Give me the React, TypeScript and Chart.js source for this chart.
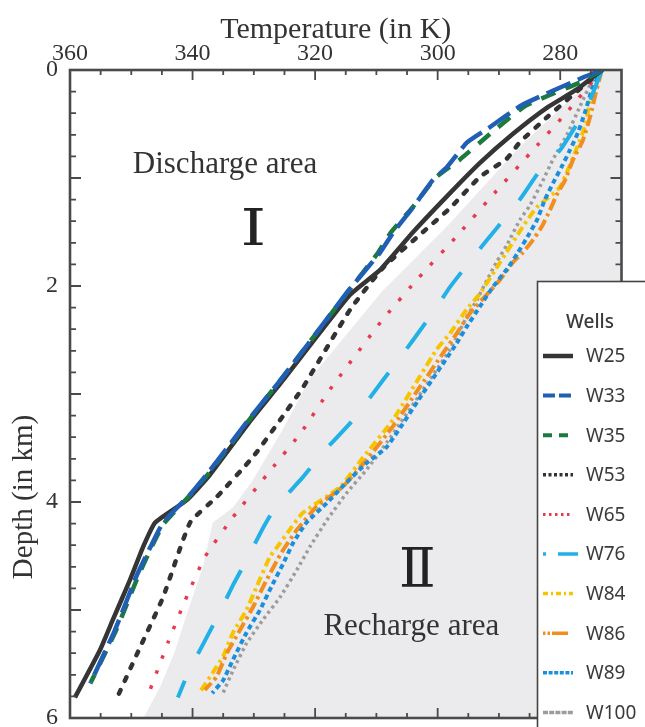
import React, { useEffect, useRef } from 'react';
import { Chart, registerables } from 'chart.js';

Chart.register(...registerables);

// ---------- axis definitions ----------
const TEMP_TICKS = [360, 340, 320, 300, 280];
const DEPTH_TICKS = [0, 2, 4, 6];
const TEMP_RANGE = [270, 360];
const DEPTH_RANGE = [0, 6];

// ---------- data (temperature in K, depth in km) ----------
const WELLS = ['W25', 'W33', 'W35', 'W53', 'W65', 'W76', 'W84', 'W86', 'W89', 'W100'];

const W25_TEMP = [273.2, 277.3, 282.2, 287.7, 293.1, 298.5, 304.0, 309.4, 314.3, 319.2, 325.2, 330.6, 337.2, 340.9, 346.1, 348.1, 350.2, 353.0, 355.1, 359.2];
const W25_DEPTH = [0, 0.18, 0.35, 0.59, 0.86, 1.17, 1.5, 1.85, 2.08, 2.43, 2.87, 3.25, 3.75, 3.98, 4.19, 4.42, 4.72, 5.09, 5.37, 5.81];

const W33_TEMP = [273.2, 276.3, 286.1, 291.5, 295.2, 298.5, 300.8, 304.0, 307.3, 309.4, 314.8, 325.2, 330.6, 337.2, 340.4, 344.8, 346.9, 349.1, 352.7, 356.7];
const W33_DEPTH = [0, 0.07, 0.32, 0.53, 0.67, 0.9, 1.02, 1.27, 1.51, 1.69, 2.06, 2.84, 3.22, 3.71, 3.93, 4.19, 4.42, 4.68, 5.19, 5.68];

const W35_TEMP = [273.2, 276.6, 285.6, 291.0, 296.4, 300.4, 304.2, 307.6, 309.7, 314.6, 325.1, 330.5, 337.0, 340.3, 344.7, 346.8, 348.9, 352.5, 356.6];
const W35_DEPTH = [0, 0.11, 0.33, 0.57, 0.83, 1.0, 1.28, 1.5, 1.69, 2.05, 2.83, 3.22, 3.71, 3.93, 4.2, 4.43, 4.69, 5.19, 5.67];

const W53_TEMP = [273.2, 282.2, 286.6, 288.7, 293.1, 298.0, 302.4, 308.9, 314.3, 322.0, 325.7, 330.1, 336.0, 340.4, 344.8, 348.6, 352.3];
const W53_DEPTH = [0, 0.44, 0.67, 0.82, 0.99, 1.28, 1.5, 1.83, 2.22, 2.94, 3.24, 3.58, 3.95, 4.19, 4.88, 5.35, 5.81];

const W65_TEMP = [273.2, 278.9, 284.9, 291.2, 296.9, 303.2, 309.1, 317.6, 322.2, 327.9, 333.4, 338.0, 341.2, 344.0, 347.4];
const W65_DEPTH = [0, 0.39, 0.77, 1.17, 1.54, 1.93, 2.32, 2.96, 3.35, 3.75, 4.14, 4.51, 4.91, 5.3, 5.81];

const W76_TEMP = [273.2, 275.6, 280.0, 283.3, 286.6, 290.3, 293.6, 298.0, 300.1, 304.0, 308.9, 313.8, 318.7, 322.0, 326.6, 328.5, 331.4, 333.4, 336.0, 340.7, 342.4];
const W76_DEPTH = [0, 0.34, 0.74, 0.93, 1.2, 1.46, 1.69, 2.01, 2.19, 2.5, 2.87, 3.24, 3.54, 3.77, 4.06, 4.24, 4.56, 4.77, 5.07, 5.58, 5.81];

const W84_TEMP = [273.2, 275.1, 276.0, 280.0, 283.8, 286.1, 289.8, 293.1, 295.3, 298.0, 300.2, 307.3, 312.2, 315.9, 322.0, 323.8, 325.7, 327.4, 329.5, 331.2, 333.4, 335.0, 336.7, 338.8];
const W84_DEPTH = [0, 0.28, 0.53, 1.08, 1.27, 1.45, 1.78, 2.07, 2.22, 2.44, 2.59, 3.24, 3.59, 3.86, 4.1, 4.23, 4.38, 4.51, 4.78, 5.0, 5.21, 5.43, 5.58, 5.76];

const W86_TEMP = [273.2, 274.1, 275.1, 276.3, 277.9, 279.2, 280.6, 281.7, 283.0, 284.4, 286.1, 287.7, 289.8, 292.0, 294.7, 296.9, 299.1, 303.2, 307.3, 311.6, 315.5, 319.7, 323.0, 325.5, 327.9, 330.1, 332.3, 334.4, 336.1, 338.0];
const W86_DEPTH = [0, 0.19, 0.43, 0.65, 0.83, 1.02, 1.16, 1.3, 1.45, 1.57, 1.69, 1.78, 1.94, 2.08, 2.25, 2.44, 2.62, 2.96, 3.3, 3.61, 3.86, 4.04, 4.26, 4.47, 4.72, 4.97, 5.19, 5.4, 5.62, 5.74];

const W89_TEMP = [273.2, 274.7, 276.0, 277.1, 278.4, 279.8, 281.2, 282.5, 283.8, 285.5, 286.9, 288.5, 291.0, 293.1, 295.3, 296.9, 302.6, 308.3, 311.6, 314.9, 318.1, 321.4, 323.6, 325.2, 327.1, 329.0, 331.2, 333.4, 335.0, 336.8];
const W89_DEPTH = [0, 0.16, 0.4, 0.58, 0.74, 0.9, 1.05, 1.2, 1.39, 1.56, 1.69, 1.83, 2.01, 2.19, 2.38, 2.53, 3.01, 3.49, 3.64, 3.82, 4.01, 4.19, 4.38, 4.57, 4.78, 5.0, 5.21, 5.46, 5.65, 5.77];

const W100_TEMP = [273.2, 274.7, 276.8, 278.9, 281.2, 282.8, 284.9, 286.6, 288.7, 290.4, 292.0, 293.6, 295.3, 296.9, 298.0, 303.2, 308.3, 311.6, 314.9, 318.1, 320.8, 323.0, 325.7, 328.5, 331.2, 333.4, 335.2];
const W100_DEPTH = [0, 0.09, 0.34, 0.6, 0.83, 1.02, 1.25, 1.39, 1.62, 1.78, 1.95, 2.13, 2.29, 2.47, 2.59, 3.03, 3.45, 3.7, 3.92, 4.17, 4.41, 4.63, 4.88, 5.09, 5.31, 5.56, 5.79];

// left boundary of the recharge (grey) area
const RECHARGE_TEMP = [270, 273.2, 286.4, 298.5, 309.1, 321.0, 325.3, 330.2, 333.4, 336.7, 338.3, 340.9, 343.0, 345.2, 348.0];
const RECHARGE_DEPTH = [0, 0, 0.7, 1.45, 2.05, 2.87, 3.33, 3.8, 4.05, 4.19, 4.6, 5.03, 5.4, 5.7, 6.0];

// area labels: [text, temperature, depth]
const AREA_LABELS: [string, number, number][] = [
  ['Discharge area', 334.7, 0.955],
  ['Recharge area', 304.3, 5.23],
];
// roman numerals: [text, temperature, depth, font size, horizontal stretch]
const AREA_NUMERALS: [string, number, number, number, number][] = [
  ['\u2160', 330.1, 1.5, 50, 1.3],
  ['\u2161', 303.3, 4.66, 54, 1.0],
];

// ---------- styles ----------
type Style = { color: string; width: number; dash: number[]; cap?: CanvasLineCap; legendDash: number[]; legendWidth: number; order: number };
const STYLES: Record<string, Style> = {
  W25: { color: '#353535', width: 4.5, dash: [], legendDash: [], legendWidth: 4.5, order: 3 },
  W33: { color: '#1f5fb4', width: 4.5, dash: [26, 8], legendDash: [12, 4], legendWidth: 4, order: 1 },
  W35: { color: '#1d7a3e', width: 4.5, dash: [15, 11], legendDash: [9, 7], legendWidth: 4, order: 2 },
  W53: { color: '#333333', width: 4.5, dash: [4, 10], cap: 'round', legendDash: [3, 2.5], legendWidth: 3.5, order: 4 },
  W65: { color: '#e83a4f', width: 3.5, dash: [3.5, 12.5], legendDash: [2.5, 3.5], legendWidth: 3, order: 5 },
  W76: { color: '#22b1e6', width: 4, dash: [32, 30], legendDash: [3, 12, 20, 100], legendWidth: 3.5, order: 6 },
  W84: { color: '#f6c500', width: 4, dash: [9, 4, 3, 4], legendDash: [5, 3, 2, 3], legendWidth: 3.5, order: 9 },
  W86: { color: '#f28e1e', width: 4, dash: [12, 4, 3, 4], legendDash: [2.5, 2, 2.5, 2, 16, 100], legendWidth: 3.5, order: 8 },
  W89: { color: '#1b8fdb', width: 4, dash: [5, 3.5], legendDash: [4, 1.6], legendWidth: 3.5, order: 7 },
  W100: { color: '#9c9c9c', width: 3.5, dash: [3, 3.5], legendDash: [5, 1.2], legendWidth: 3.5, order: 10 },
};

const SERIES: Record<string, [number[], number[]]> = {
  W25: [W25_TEMP, W25_DEPTH],
  W33: [W33_TEMP, W33_DEPTH],
  W35: [W35_TEMP, W35_DEPTH],
  W53: [W53_TEMP, W53_DEPTH],
  W65: [W65_TEMP, W65_DEPTH],
  W76: [W76_TEMP, W76_DEPTH],
  W84: [W84_TEMP, W84_DEPTH],
  W86: [W86_TEMP, W86_DEPTH],
  W89: [W89_TEMP, W89_DEPTH],
  W100: [W100_TEMP, W100_DEPTH],
};

const zip = (t: number[], d: number[]) => t.map((v, i) => ({ x: v, y: d[i] }));

const SERIF = '"Liberation Serif", "Times New Roman", serif';
const SANS = '"Noto Sans", "Open Sans", sans-serif';
const TEXT = '#333333';
const FRAME = '#4a4a4a';

const framePlugin = {
  id: 'frame',
  afterDatasetsDraw(chart: any) {
    const { ctx, chartArea: a, scales } = chart;
    const x = scales.x, y = scales.y;
    ctx.save();
    ctx.strokeStyle = FRAME;
    ctx.lineWidth = 1.8;
    ctx.beginPath();
    for (let t = TEMP_RANGE[0] + 5; t < TEMP_RANGE[1]; t += 5) {
      const px = x.getPixelForValue(t);
      const len = t % 20 === 0 ? 10 : 5;
      ctx.moveTo(px, a.top); ctx.lineTo(px, a.top + len);
      ctx.moveTo(px, a.bottom); ctx.lineTo(px, a.bottom - len);
    }
    for (let i = 1; i < 30; i++) {
      const py = y.getPixelForValue(i * 0.2);
      const len = i % 5 === 0 ? 11 : 6;
      ctx.moveTo(a.left, py); ctx.lineTo(a.left + len, py);
      ctx.moveTo(a.right, py); ctx.lineTo(a.right - len, py);
    }
    ctx.stroke();
    ctx.lineWidth = 2.6;
    ctx.strokeRect(a.left, a.top, a.right - a.left, a.bottom - a.top);

    // area labels
    ctx.fillStyle = TEXT;
    ctx.textAlign = 'center';
    ctx.textBaseline = 'alphabetic';
    ctx.font = `31px ${SERIF}`;
    for (const [s, t, d] of AREA_LABELS) ctx.fillText(s, x.getPixelForValue(t), y.getPixelForValue(d));
    ctx.textBaseline = 'middle';
    ctx.fillStyle = '#222';
    for (const [s, t, d, size, stretch] of AREA_NUMERALS) {
      ctx.save();
      ctx.translate(x.getPixelForValue(t), y.getPixelForValue(d));
      ctx.scale(stretch, 1);
      ctx.font = `${size}px "DejaVu Serif"`;
      ctx.fillText(s, 0, 0);
      ctx.restore();
    }

    // axis titles
    ctx.fillStyle = TEXT;
    ctx.textBaseline = 'alphabetic';
    ctx.font = `30px ${SERIF}`;
    ctx.fillText('Temperature (in K)', (a.left + a.right) / 2 - 10, 38);
    ctx.save();
    ctx.translate(24, 497);
    ctx.rotate(-Math.PI / 2);
    ctx.textBaseline = 'middle';
    ctx.font = `29px ${SERIF}`;
    ctx.fillText('Depth (in km)', 0, 0);
    ctx.restore();
    ctx.restore();
  },
  afterDraw(chart: any) {
    const { ctx } = chart;
    ctx.save();
    const bx = 537.5, by = 281.5;
    ctx.fillStyle = '#ffffff';
    ctx.fillRect(bx, by, 200, 500);
    ctx.strokeStyle = '#444';
    ctx.lineWidth = 1.6;
    ctx.strokeRect(bx, by, 200, 500);
    ctx.fillStyle = '#3a3a3a';
    ctx.textAlign = 'center';
    ctx.textBaseline = 'middle';
    ctx.font = `500 19px ${SANS}`;
    ctx.fillText('Wells', 590, 323);
    ctx.font = `19px ${SANS}`;
    ctx.textAlign = 'left';
    WELLS.forEach((w, i) => {
      const st = STYLES[w];
      const cy = 356 + i * 39.6;
      ctx.save();
      ctx.strokeStyle = st.color;
      ctx.lineWidth = st.legendWidth;
      ctx.setLineDash(st.legendDash);
      ctx.beginPath();
      ctx.moveTo(543, cy);
      ctx.lineTo(w === 'W76' ? 580 : 573, cy);
      ctx.stroke();
      ctx.restore();
      ctx.fillStyle = '#3a3a3a';
      ctx.fillText(w, 586, cy + 1);
    });
    ctx.restore();
  },
};

export default function App() {
  const ref = useRef<HTMLCanvasElement>(null);
  useEffect(() => {
    document.body.style.margin = '0';
    const datasets: any[] = WELLS.map((w) => {
      const st = STYLES[w];
      return {
        label: w,
        data: zip(SERIES[w][0], SERIES[w][1]),
        showLine: true,
        borderColor: st.color,
        borderWidth: st.width,
        borderDash: st.dash,
        borderCapStyle: st.cap || 'butt',
        borderJoinStyle: 'round',
        pointRadius: 0,
        tension: 0.15,
        fill: false,
        order: st.order,
      };
    });
    datasets.push({
      label: 'Recharge',
      data: zip(RECHARGE_TEMP, RECHARGE_DEPTH),
      showLine: true,
      borderWidth: 0,
      borderColor: 'rgba(0,0,0,0)',
      backgroundColor: '#ebebee',
      pointRadius: 0,
      fill: 'start',
      order: 100,
    });
    const chart = new Chart(ref.current as HTMLCanvasElement, {
      type: 'scatter',
      data: { datasets },
      options: {
        animation: false,
        responsive: false,
        devicePixelRatio: 1,
        layout: { padding: { left: 0, top: 0, right: 23.5, bottom: 9 } },
        plugins: { legend: { display: false }, tooltip: { enabled: false } },
        scales: {
          x: {
            type: 'linear',
            position: 'top',
            min: TEMP_RANGE[0],
            max: TEMP_RANGE[1],
            reverse: true,
            grid: { display: false, drawTicks: false },
            border: { display: false },
            ticks: { font: { family: SERIF, size: 24 }, color: TEXT, padding: 2, maxRotation: 0 },
            afterBuildTicks: (s: any) => { s.ticks = TEMP_TICKS.map((v) => ({ value: v })); },
            afterFit: (s: any) => { s.height = 70; s.paddingLeft = 0; s.paddingRight = 0; },
          },
          y: {
            type: 'linear',
            position: 'left',
            min: DEPTH_RANGE[0],
            max: DEPTH_RANGE[1],
            reverse: true,
            grid: { display: false, drawTicks: false },
            border: { display: false },
            ticks: { font: { family: SERIF, size: 24, lineHeight: 0.7 }, color: TEXT, padding: 12 },
            afterBuildTicks: (s: any) => { s.ticks = DEPTH_TICKS.map((v) => ({ value: v })); },
            afterFit: (s: any) => { s.width = 70; s.paddingTop = 0; s.paddingBottom = 0; },
          },
        },
      },
      plugins: [framePlugin],
    } as any);
    return () => chart.destroy();
  }, []);
  return (
    <div style={{ width: 645, height: 727, overflow: 'hidden' }}>
      <canvas ref={ref} width={645} height={727} style={{ display: 'block', width: 645, height: 727 }} />
    </div>
  );
}
